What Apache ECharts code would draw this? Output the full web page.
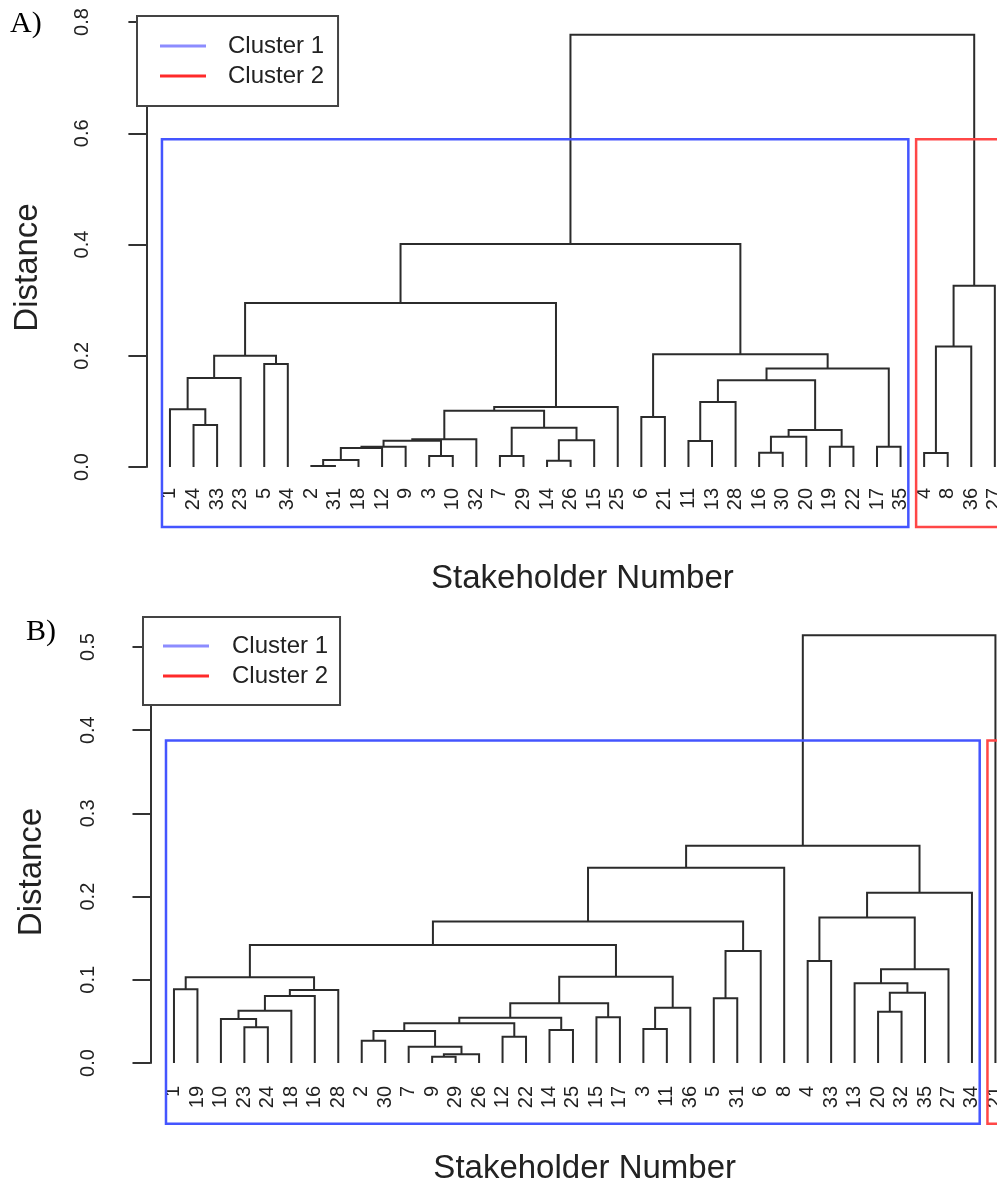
<!DOCTYPE html>
<html>
<head>
<meta charset="utf-8">
<script src="https://cdn.jsdelivr.net/npm/echarts@6/dist/echarts.min.js"></script>
<style>
  html, body { margin: 0; padding: 0; background: #fff; }
  #chart { width: 997px; height: 1189px; }
</style>
</head>
<body>
<div id="chart"></div>
<script>
// ---------- data ----------
// leaf order, left to right (stakeholder numbers)
const leavesA = [1, 24, 33, 23, 5, 34, 2, 31, 18, 12, 9, 3, 10, 32, 7, 29, 14, 26, 15, 25, 6, 21, 11, 13, 28, 16, 30, 20, 19, 22, 17, 35, 4, 8, 36, 27];
const leavesB = [1, 19, 10, 23, 24, 18, 16, 28, 2, 30, 7, 9, 29, 26, 12, 22, 14, 25, 15, 17, 3, 11, 36, 5, 31, 6, 8, 4, 33, 13, 20, 32, 35, 27, 34, 21];

// merge steps [left, right, height]
// negative = stakeholder (leaf), positive = earlier merge step (1-based), like hclust$merge
const mergesA = [
  [-2, -31, 0.002], [1, -18, 0.0126], [-14, -26, 0.0114], [-3, -10, 0.020], [-7, -29, 0.020],
  [-4, -8, 0.025], [-16, -30, 0.0257], [2, -12, 0.034], [8, -9, 0.0365], [-19, -22, 0.0365],
  [-17, -35, 0.0365], [-11, -13, 0.0467], [9, 4, 0.047], [3, -15, 0.048], [13, -32, 0.050],
  [7, -20, 0.0545], [16, 10, 0.0665], [5, 14, 0.0707], [-24, -33, 0.0755], [-6, -21, 0.090],
  [15, 18, 0.101], [-1, 19, 0.104], [21, -25, 0.108], [12, -28, 0.117], [24, 17, 0.156],
  [22, -23, 0.160], [25, 11, 0.177], [-5, -34, 0.185], [26, 28, 0.200], [20, 27, 0.2025],
  [6, -36, 0.2168], [29, 23, 0.295], [31, -27, 0.326], [32, 30, 0.401], [34, 33, 0.777]
];
const mergesB = [
  [-9, -29, 0.0076], [1, -26, 0.0104], [-7, 2, 0.0196], [-2, -30, 0.0268], [-12, -22, 0.0317],
  [4, 3, 0.0385], [-14, -25, 0.0397], [-3, -11, 0.0409], [-23, -24, 0.0429], [6, 5, 0.0477],
  [-10, 9, 0.0529], [10, 7, 0.0545], [-15, -17, 0.0549], [-20, -32, 0.0617], [11, -18, 0.0629],
  [8, -36, 0.0665], [12, 13, 0.0718], [-5, -31, 0.0777], [15, -16, 0.0805], [14, -35, 0.0845],
  [19, -28, 0.0877], [-1, -19, 0.0885], [-13, 20, 0.0958], [22, 21, 0.103], [17, 16, 0.1038],
  [23, -27, 0.1126], [-4, -33, 0.1226], [18, -6, 0.1346], [24, 25, 0.1418], [29, 28, 0.170],
  [27, 26, 0.175], [31, -34, 0.2047], [30, -8, 0.2348], [33, 32, 0.261], [34, -21, 0.514]
];

const clusterNames = ['Cluster 1', 'Cluster 2'];
const yMaxA = 0.8, yStepA = 0.2;
const yMaxB = 0.5, yStepB = 0.1;

// ---------- layout ----------
const LINE = '#2b2b2b';
const BLUE = '#4455ff';
const RED = '#ff4747';
const TITLE_FONT = '"Liberation Sans", Arial, sans-serif';
const panels = [
  { leaves: leavesA, merges: mergesA, yMax: yMaxA, step: yStepA, left: 146.4, top: 22, width: 872, height: 445,
    axisOffset: 9.4, rectBottom: -0.108, labelMargin: 21, xNameGap: 95, yNameGap: 93, yNameShift: 46 },
  { leaves: leavesB, merges: mergesB, yMax: yMaxB, step: yStepB, left: 150.5, top: 647, width: 868.4, height: 416,
    axisOffset: 7.5, rectBottom: -0.073, labelMargin: 23, xNameGap: 89, yNameGap: 95, yNameShift: 34 }
];

// ---------- tree -> segments ----------
// node x = midpoint of its two children (as R's plot.hclust)
const buildTree = (leaves, merges) => {
  const pos = {};
  leaves.forEach((s, i) => { pos[s] = i + 1; });
  const nodes = [];
  const get = (id) => (id < 0 ? { x: pos[-id], h: 0, lo: pos[-id], hi: pos[-id] } : nodes[id - 1]);
  const links = merges.map(([a, b, h]) => {
    const l = get(a), r = get(b);
    nodes.push({ x: (l.x + r.x) / 2, h, lo: Math.min(l.lo, r.lo), hi: Math.max(l.hi, r.hi) });
    return [l.x, l.h, r.x, r.h, h];
  });
  // two-cluster cut (rect.hclust style)
  const last = merges[merges.length - 1];
  const cut = (last[2] + merges[merges.length - 2][2]) / 2;
  const groups = [get(last[0]), get(last[1])].sort((p, q) => p.lo - q.lo);
  return { links, cut, groups };
};

const renderLink = (params, api) => {
  const p1 = api.coord([api.value(0), api.value(1)]);
  const p2 = api.coord([api.value(0), api.value(4)]);
  const p3 = api.coord([api.value(2), api.value(4)]);
  const p4 = api.coord([api.value(2), api.value(3)]);
  return {
    type: 'polyline',
    shape: { points: [p1, p2, p3, p4] },
    style: { stroke: LINE, lineWidth: 2, fill: null }
  };
};

const renderBox = (color) => (params, api) => {
  const a = api.coord([api.value(0), api.value(3)]);
  const b = api.coord([api.value(1), api.value(2)]);
  return {
    type: 'rect',
    shape: { x: a[0], y: a[1], width: b[0] - a[0], height: b[1] - a[1] },
    style: { stroke: color, fill: null, lineWidth: 2.5 }
  };
};

const grids = [], xAxes = [], yAxes = [], series = [];
panels.forEach((p, i) => {
  const tree = buildTree(p.leaves, p.merges);
  grids.push({ left: p.left, top: p.top, width: p.width, height: p.height, outerBoundsMode: 'none' });
  xAxes.push({
    gridIndex: i,
    type: 'value',
    min: 0,
    max: p.leaves.length + 1,
    interval: 1,
    name: 'Stakeholder Number',
    nameLocation: 'middle',
    nameGap: p.xNameGap,
    nameTextStyle: { fontFamily: TITLE_FONT, fontSize: 33, color: '#222' },
    axisLine: { show: false },
    axisTick: { show: false },
    splitLine: { show: false },
    axisLabel: {
      rotate: 90,
      margin: p.labelMargin,
      fontFamily: '"Liberation Sans", Arial, sans-serif',
      fontSize: 20,
      color: '#222',
      formatter: (v) => (p.leaves[v - 1] !== undefined ? String(p.leaves[v - 1]) : '')
    }
  });
  yAxes.push({
    gridIndex: i,
    type: 'value',
    min: 0,
    max: p.yMax,
    interval: p.step,
    offset: p.axisOffset,
    name: 'Distance',
    nameLocation: 'middle',
    nameRotate: 90,
    nameGap: p.yNameGap,
    nameTextStyle: { fontFamily: TITLE_FONT, fontSize: 33, color: '#222', padding: [0, p.yNameShift, 0, 0] },
    axisLine: { show: true, lineStyle: { color: '#333', width: 2 } },
    axisTick: { show: true, length: 18, lineStyle: { color: '#333', width: 2 } },
    splitLine: { show: false },
    axisLabel: {
      rotate: 90,
      margin: 45,
      fontFamily: '"Liberation Sans", Arial, sans-serif',
      fontSize: 20,
      color: '#222',
      formatter: (v) => v.toFixed(1)
    }
  });
  series.push({
    type: 'custom',
    xAxisIndex: i,
    yAxisIndex: i,
    clip: false,
    silent: true,
    renderItem: renderLink,
    encode: { x: [0, 2], y: [1, 3, 4] },
    data: tree.links
  });
  tree.groups.forEach((g, k) => {
    const color = k === 0 ? BLUE : RED;
    series.push({
      type: 'custom',
      name: clusterNames[k],
      xAxisIndex: i,
      yAxisIndex: i,
      clip: false,
      silent: true,
      itemStyle: { color },
      renderItem: renderBox(color),
      encode: { x: [0, 1], y: [2, 3] },
      data: [[g.lo - 0.34, g.hi + 0.33, p.rectBottom, tree.cut]]
    });
  });
});

const legendBase = {
  orient: 'vertical',
  selectedMode: false,
  backgroundColor: '#fff',
  borderColor: '#444',
  borderWidth: 2,
  itemGap: 4,
  itemWidth: 46,
  itemHeight: 3,
  icon: 'rect',
  data: [
    { name: clusterNames[0], itemStyle: { color: '#8c8cff' } },
    { name: clusterNames[1], itemStyle: { color: '#ff2a2a' } }
  ]
};
const legendText = (gap) => ({
  fontFamily: '"Liberation Sans", Arial, sans-serif', fontSize: 24, lineHeight: 26, color: '#222', padding: [0, 0, 0, gap]
});

const chart = echarts.init(document.getElementById('chart'), null, { renderer: 'canvas' });
chart.setOption({
  backgroundColor: '#fff',
  animation: false,
  grid: grids,
  xAxis: xAxes,
  yAxis: yAxes,
  legend: [
    Object.assign({}, legendBase, { left: 137, top: 16, padding: [17, 14, 17, 23], textStyle: legendText(17) }),
    Object.assign({}, legendBase, { left: 143, top: 617, padding: [16, 12, 16, 20], textStyle: legendText(18) })
  ],
  graphic: [
    { type: 'text', left: 10, top: 9, style: { text: 'A)', fontFamily: '"Liberation Serif", "Times New Roman", serif', fontSize: 30, fill: '#000' } },
    { type: 'text', left: 26, top: 617, style: { text: 'B)', fontFamily: '"Liberation Serif", "Times New Roman", serif', fontSize: 30, fill: '#000' } }
  ],
  series: series
});
</script>
</body>
</html>
